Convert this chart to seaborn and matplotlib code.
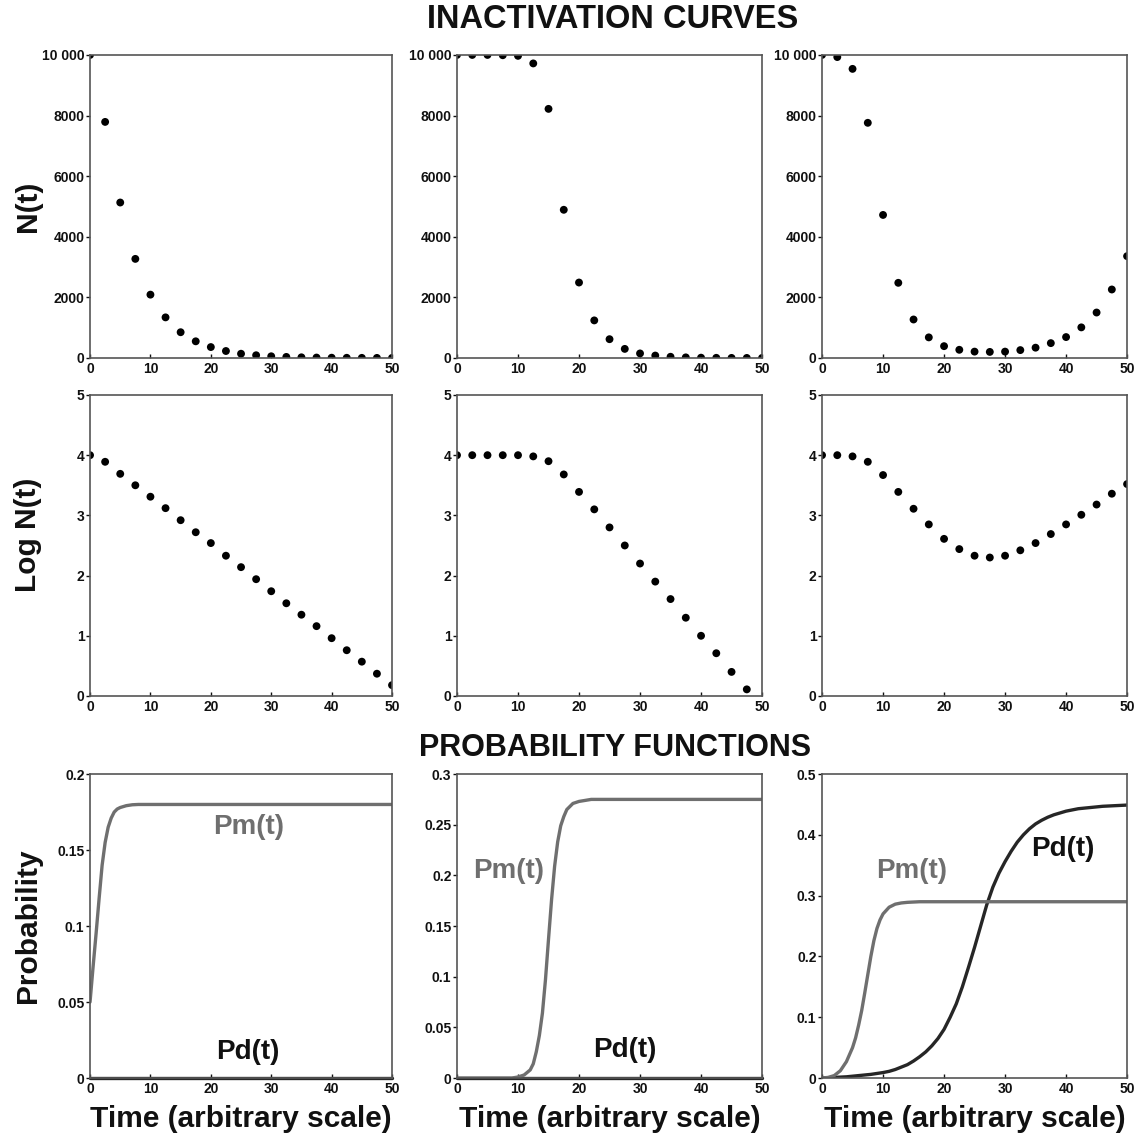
import matplotlib
matplotlib.use("Agg")
import matplotlib.pyplot as plt
import seaborn as sns

# ---------------- data ----------------
time_pts = [0, 2.5, 5, 7.5, 10, 12.5, 15, 17.5, 20, 22.5, 25,
            27.5, 30, 32.5, 35, 37.5, 40, 42.5, 45, 47.5, 50]

# survivors N(t), three inactivation patterns
n_first_order = [10000, 7790, 5130, 3270, 2090, 1340, 850, 550, 360, 230, 140,
                 90, 56, 35, 22, 14, 9, 6, 4, 2.5, 1.5]
n_shoulder = [10000, 10000, 10000, 9990, 9970, 9720, 8220, 4890, 2490, 1240, 620,
              300, 150, 80, 40, 20, 10, 5, 2.5, 1.3, 0.6]
n_regrowth = [10000, 9930, 9540, 7760, 4720, 2480, 1270, 680, 390, 270, 210,
              200, 210, 260, 340, 490, 690, 1010, 1500, 2260, 3360]

# log10 N(t)
log_first_order = [4.00, 3.89, 3.69, 3.50, 3.31, 3.12, 2.92, 2.72, 2.54, 2.33, 2.14,
                   1.94, 1.74, 1.54, 1.35, 1.16, 0.96, 0.76, 0.57, 0.37, 0.18]
log_shoulder = [4.00, 4.00, 4.00, 4.00, 4.00, 3.98, 3.90, 3.68, 3.39, 3.10, 2.80,
                2.50, 2.20, 1.90, 1.61, 1.30, 1.00, 0.71, 0.40, 0.11]
log_regrowth = [4.00, 4.00, 3.98, 3.89, 3.67, 3.39, 3.11, 2.85, 2.61, 2.44, 2.33,
                2.30, 2.33, 2.42, 2.54, 2.69, 2.85, 3.01, 3.18, 3.36, 3.52]

# probability functions Pm(t), Pd(t)
pm_a_t = [0, 0.5, 1, 1.5, 2, 2.5, 3, 3.5, 4, 4.5, 5, 6, 7, 8, 10, 50]
pm_a = [0.050, 0.073, 0.095, 0.118, 0.140, 0.155, 0.165, 0.171, 0.175, 0.177,
        0.178, 0.1792, 0.1798, 0.180, 0.180, 0.180]
pd_a_t = [0, 50]
pd_a = [0.0, 0.0]

pm_b_t = [0, 9, 10, 11, 12, 12.5, 13, 13.5, 14, 14.5, 15, 15.5, 16, 16.5, 17,
          17.5, 18, 19, 20, 21, 22, 50]
pm_b = [0, 0, 0.001, 0.003, 0.008, 0.014, 0.026, 0.042, 0.064, 0.097, 0.137,
        0.176, 0.209, 0.233, 0.249, 0.258, 0.265, 0.271, 0.273, 0.274, 0.275, 0.275]
pd_b_t = [0, 50]
pd_b = [0.0, 0.0]

pm_c_t = [0, 1, 2, 3, 4, 5, 5.5, 6, 6.5, 7, 7.5, 8, 8.5, 9, 9.5, 10, 11, 12,
          13, 14, 16, 50]
pm_c = [0, 0.001, 0.004, 0.012, 0.027, 0.050, 0.066, 0.087, 0.111, 0.140, 0.170,
        0.200, 0.226, 0.246, 0.260, 0.270, 0.281, 0.286, 0.288, 0.289, 0.290, 0.290]
pd_c_t = [0, 2, 4, 5, 6, 7, 8, 9, 10, 11, 12, 13, 14, 15, 16, 17, 18, 19, 20,
          21, 22, 23, 24, 25, 26, 27, 28, 29, 30, 31, 32, 33, 34, 35, 36, 37,
          38, 39, 40, 41, 42, 43, 44, 46, 48, 50]
pd_c = [0, 0.001, 0.002, 0.003, 0.004, 0.005, 0.006, 0.0075, 0.009, 0.011,
        0.014, 0.018, 0.022, 0.028, 0.035, 0.043, 0.053, 0.065, 0.080, 0.100,
        0.122, 0.150, 0.182, 0.215, 0.250, 0.285, 0.314, 0.337, 0.356, 0.373,
        0.388, 0.400, 0.410, 0.418, 0.424, 0.429, 0.433, 0.436, 0.439, 0.441,
        0.443, 0.444, 0.445, 0.447, 0.448, 0.449]

# tick labels
x_ticks = [0, 10, 20, 30, 40, 50]
n_ticks = [0, 2000, 4000, 6000, 8000, 10000]
n_tick_labels = ["0", "2000", "4000", "6000", "8000", "10 000"]
log_ticks = [0, 1, 2, 3, 4, 5]
prob_ticks = [
    [0, 0.05, 0.1, 0.15, 0.2],
    [0, 0.05, 0.1, 0.15, 0.2, 0.25, 0.3],
    [0, 0.1, 0.2, 0.3, 0.4, 0.5],
]
prob_tick_labels = [
    ["0", "0.05", "0.1", "0.15", "0.2"],
    ["0", "0.05", "0.1", "0.15", "0.2", "0.25", "0.3"],
    ["0", "0.1", "0.2", "0.3", "0.4", "0.5"],
]
prob_max = [0.2, 0.3, 0.5]

# ---------------- style ----------------
sns.set_theme(style="ticks")
plt.rcParams["font.family"] = ["Liberation Sans", "DejaVu Sans"]
plt.rcParams["font.weight"] = "bold"

PM_COLOR = "#6f6f6f"
PD_COLOR = "#262626"
SPINE_COLOR = "#555555"

fig = plt.figure(figsize=(11.34, 11.35), dpi=100)

col_x = [0.0794, 0.4030, 0.7249]
col_w = [0.2663, 0.2690, 0.2690]
row_y = [0.6846, 0.3868, 0.0502]
row_h = [0.2670, 0.2652, 0.2678]


def style_axes(ax):
    for sp in ax.spines.values():
        sp.set_color(SPINE_COLOR)
        sp.set_linewidth(1.2)
    ax.tick_params(axis="x", direction="in", length=3, width=1, pad=3,
                   labelsize=10, colors="#111111")
    ax.tick_params(axis="y", direction="out", length=3, width=1, pad=1,
                   labelsize=10, colors="#111111")
    for lab in ax.get_xticklabels() + ax.get_yticklabels():
        lab.set_fontweight("bold")
    ax.set_xlim(0, 50)
    ax.set_xticks(x_ticks)
    ax.set_xticklabels([str(v) for v in x_ticks])
    ax.set_xlabel("")
    ax.set_ylabel("")


axes = [[fig.add_axes([col_x[c], row_y[r], col_w[c], row_h[r]]) for c in range(3)]
        for r in range(3)]

n_series = [n_first_order, n_shoulder, n_regrowth]
log_series = [log_first_order, log_shoulder, log_regrowth]

for c in range(3):
    ax = axes[0][c]
    sns.scatterplot(x=time_pts, y=n_series[c], ax=ax, color="black", s=32,
                    edgecolor="none", linewidth=0, legend=False)
    ax.set_ylim(0, 10000)
    ax.set_yticks(n_ticks)
    ax.set_yticklabels(n_tick_labels)
    style_axes(ax)

    ax = axes[1][c]
    ys = log_series[c]
    sns.scatterplot(x=time_pts[:len(ys)], y=ys, ax=ax, color="black", s=32,
                    edgecolor="none", linewidth=0, legend=False)
    ax.set_ylim(0, 5)
    ax.set_yticks(log_ticks)
    ax.set_yticklabels([str(v) for v in log_ticks])
    style_axes(ax)

pm_series = [(pm_a_t, pm_a), (pm_b_t, pm_b), (pm_c_t, pm_c)]
pd_series = [(pd_a_t, pd_a), (pd_b_t, pd_b), (pd_c_t, pd_c)]

for c in range(3):
    ax = axes[2][c]
    sns.lineplot(x=pd_series[c][0], y=pd_series[c][1], ax=ax, color=PD_COLOR,
                 linewidth=2.4, clip_on=False if c < 2 else True)
    sns.lineplot(x=pm_series[c][0], y=pm_series[c][1], ax=ax, color=PM_COLOR,
                 linewidth=2.4)
    ax.set_ylim(0, prob_max[c])
    ax.set_yticks(prob_ticks[c])
    ax.set_yticklabels(prob_tick_labels[c])
    style_axes(ax)
    ax.set_xlabel("Time (arbitrary scale)", fontsize=21.5, fontweight="bold",
                  labelpad=6, color="#111111")

# curve labels
label_kw = dict(fontsize=20, fontweight="bold", ha="center", va="center")
axes[2][0].text(26.2, 0.165, "Pm(t)", color=PM_COLOR, **label_kw)
axes[2][0].text(26.1, 0.017, "Pd(t)", color="#111111", **label_kw)
axes[2][1].text(8.4, 0.204, "Pm(t)", color=PM_COLOR, **label_kw)
axes[2][1].text(27.5, 0.028, "Pd(t)", color="#111111", **label_kw)
axes[2][2].text(14.75, 0.34, "Pm(t)", color=PM_COLOR, **label_kw)
axes[2][2].text(39.5, 0.377, "Pd(t)", color="#111111", **label_kw)

# row labels
row_labels = ["N(t)", "Log N(t)", "Probability"]
row_label_y = [0.5, 0.535, 0.5]
for r in range(3):
    ax = axes[r][0]
    ax.set_ylabel(row_labels[r], fontsize=21.5, fontweight="bold", color="#111111")
    ax.yaxis.set_label_coords(-0.158, row_label_y[r])

# section titles
fig.text(0.540, 1 - 20 / 1135, "INACTIVATION CURVES", ha="center", va="center",
         fontsize=23.5, fontweight="bold", color="#111111")
fig.text(0.542, 1 - 748 / 1135, "PROBABILITY FUNCTIONS", ha="center", va="center",
         fontsize=22, fontweight="bold", color="#111111")

fig.savefig("out.png", dpi=100)
